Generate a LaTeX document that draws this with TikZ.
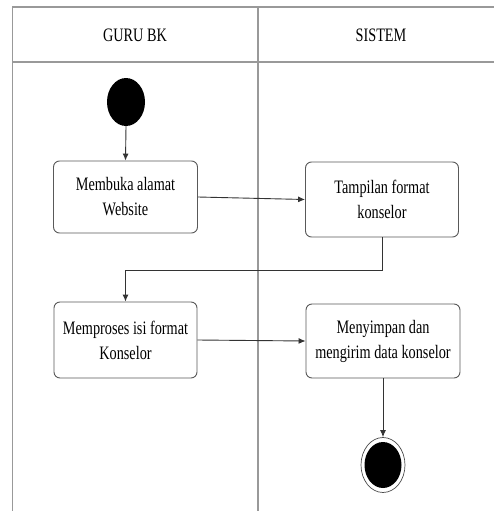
\documentclass[tikz,border=0pt]{standalone}
\usepackage{fontspec}
\newfontfamily\lanefont[FakeStretch=0.75]{Liberation Serif}
\usetikzlibrary{shapes.geometric,arrows.meta}
\begin{document}
\begin{tikzpicture}[x=1pt,y=-1pt,
  lane/.style={draw=black!40,line width=1.1pt},
  lanetitle/.style={font=\lanefont\fontsize{19}{24}\selectfont,text=black,inner sep=0pt},
  activity/.style={draw=black!65,line width=0.9pt,rounded corners=6pt,fill=white,
    align=center,font=\lanefont\fontsize{19}{25}\selectfont,text=black,inner sep=0pt},
  flow/.style={draw=black!80,line width=0.9pt,-{Latex[length=7pt,width=6pt]}},
  startnode/.style={ellipse,fill=black,minimum width=38pt,minimum height=48pt,inner sep=0pt},
  endnode/.style={ellipse,draw=black!70,line width=0.7pt,fill=white,minimum width=44pt,minimum height=55pt,inner sep=0pt}]
  \useasboundingbox (0,0) rectangle (495,511);

  % swimlane frame
  \draw[lane] (12.5,511) -- (12.5,7) -- (494,7);
  \draw[lane] (12.5,62) -- (494,62);
  \draw[lane] (258,7) -- (258,511);
  \node[lanetitle] (laneguru) at (135,35) {GURU BK};
  \node[lanetitle] (lanesys) at (381,35) {SISTEM};

  % activities
  \node[startnode] (start) at (126,102) {};
  \node[activity,minimum width=144pt,minimum height=72pt] (b1) at (125.5,197) {Membuka alamat\\Website};
  \node[activity,minimum width=153pt,minimum height=75pt] (b2) at (382,199.5) {Tampilan format\\konselor};
  \node[activity,minimum width=143pt,minimum height=76pt] (b3) at (125.5,340) {Memproses isi format\\Konselor};
  \node[activity,minimum width=154pt,minimum height=74pt] (b4) at (383,341) {Menyimpan dan\\mengirim data konselor};
  \node[endnode] (end) at (383,465) {};
  \fill[black] (end.center) ellipse [x radius=18.5pt,y radius=23pt];

  % control flow
  \draw[flow] (start.south) -- (b1.north);
  \draw[flow] (b1.east) -- (b2.west);
  \draw[flow] (b2.south) -- ++(0,33) -| (b3.north);
  \draw[flow] (b3.east) -- (b4.west);
  \draw[flow] (b4.south) -- (end.north);
\end{tikzpicture}
\end{document}
